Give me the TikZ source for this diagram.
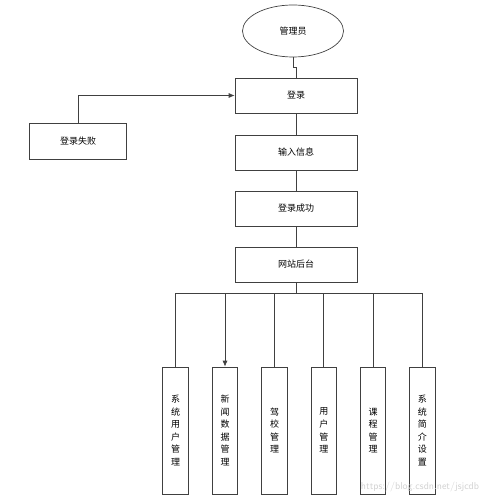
\documentclass[tikz,border=0pt]{standalone}
\usepackage{fontspec}
\newfontfamily\cjk{Noto Sans CJK SC}
\usetikzlibrary{shapes.geometric,arrows.meta}
\begin{document}
\begin{tikzpicture}[x=1pt,y=-1pt]
\tikzset{box style/.style={shape=rectangle,draw=black!75,line width=0.7pt,minimum width=122pt,minimum height=35pt,font=\cjk\fontsize{9}{12}\selectfont},
         tall style/.style={shape=rectangle,draw=black!75,line width=0.7pt,minimum width=25.5pt,minimum height=127pt,inner sep=0pt,align=center,font=\cjk\fontsize{9}{12.6}\selectfont}}
\useasboundingbox (0,0) rectangle (499,502);

\node[ellipse,draw=black!75,line width=0.7pt,minimum width=101pt,minimum height=52pt,font=\cjk\fontsize{9}{12}\selectfont] at (293, 31) (admin) {管理员};

\node[box style] at (296, 95.5)  (login)   {登录};
\node[box style] at (296, 152.5) (input)   {输入信息};
\node[box style] at (296, 208.5) (success) {登录成功};
\node[box style] at (296, 264.5) (backend) {网站后台};
\node[box style,minimum width=97pt,minimum height=36pt] at (78, 141) (fail) {登录失败};

\node[tall style] at (175.5, 430.5) (m1) {系\\统\\用\\户\\管\\理};
\node[tall style] at (225, 430.5)   (m2) {新\\闻\\数\\据\\管\\理};
\node[tall style] at (274.5, 430.5) (m3) {驾\\校\\管\\理};
\node[tall style] at (323.8, 430.5) (m4) {用\\户\\管\\理};
\node[tall style] at (373, 430.5)   (m5) {课\\程\\管\\理};
\node[tall style] at (422.3, 430.5) (m6) {系\\统\\简\\介\\设\\置};

\coordinate (bus) at (296, 293);

\draw[black!75, line width=0.7pt]
            (admin.south)   -- ++(0,10) -| (login.north)
            (login)         edge (input)
            (input)         edge (success)
            (success)       edge (backend)
            (backend.south) -- (bus)
            (bus)           -| (m1.north)
            (bus)           -| (m3.north)
            (bus)           -| (m4.north)
            (bus)           -| (m5.north)
            (bus)           -| (m6.north)
;
\draw[black!75, line width=0.7pt, -{Latex[length=6pt,width=5pt]}]
            (bus)           -| (m2.north);
\draw[black!75, line width=0.7pt, -{Latex[length=6pt,width=5pt]}]
            (fail.north)    |- (login.west);

%\node at (420, 487) {watermark};
\node[text=black!18,font=\fontsize{10}{12}\selectfont\sffamily] at (420, 487) (mark) {https://blog.csdn.net/jsjcdb};
\end{tikzpicture}
\end{document}
